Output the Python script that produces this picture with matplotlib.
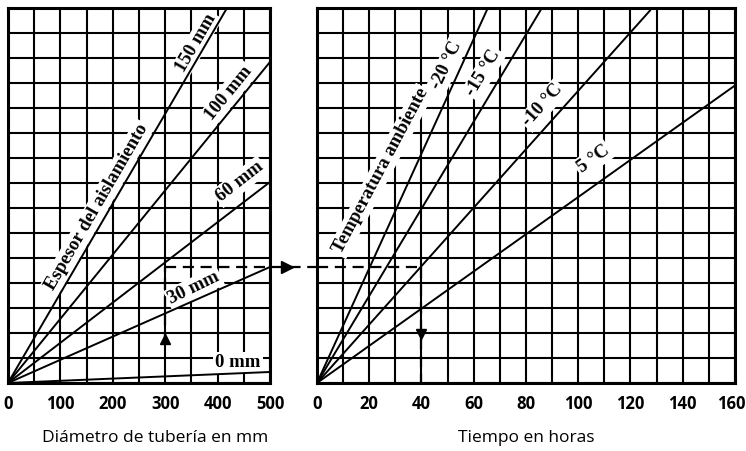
import numpy as np
import matplotlib.pyplot as plt
import matplotlib.transforms as mtransforms

# left panel: insulation thickness lines (pipe diameter in mm vs. unitless scale)
thickness_labels = ['150 mm', '100 mm', '60 mm', '30 mm', '0 mm']
thickness_end_x = [418, 500, 500, 500, 500]
thickness_end_y = [15.0, 12.84, 8.04, 4.64, 0.44]
thickness_label_x = [360, 422, 443, 355, 439]
thickness_label_y = [13.6, 11.6, 8.05, 3.8, 0.8]
thickness_label_rot = [60, 51, 38, 26, 0]

# right panel: ambient temperature lines (hours)
temp_labels = ['-20 °C', '-15 °C', '-10 °C', '5 °C']
temp_end_x = [65.4, 86.1, 127.5, 160]
temp_end_y = [15.0, 15.0, 14.9, 11.9]
temp_label_x = [49.8, 63.8, 86.5, 105.8]
temp_label_y = [12.7, 12.4, 11.1, 8.95]
temp_label_rot = [65, 59, 48, 36]

left_ticks = [0, 100, 200, 300, 400, 500]
right_ticks = [0, 20, 40, 60, 80, 100, 120, 140, 160]

# worked example: 300 mm pipe -> level 4.64 -> 40 hours
example_diam = 300
example_level = 4.64
example_hours = 40

serif = ['Liberation Serif', 'DejaVu Serif']
sans = ['Open Sans', 'DejaVu Sans']


def style_axis(ax, xmax, major, minor):
    ax.set_xlim(0, xmax)
    ax.set_ylim(0, 15)
    ax.set_xticks(major)
    ax.set_xticks(np.arange(0, xmax + 1, minor), minor=True)
    ax.set_yticks(np.arange(0, 16, 1))
    ax.set_yticklabels([])
    ax.grid(True, which='both', color='black', linewidth=1.5)
    ax.tick_params(which='both', length=0)
    ax.tick_params(axis='x', pad=9, labelsize=12)
    for lab in ax.get_xticklabels():
        lab.set_family(sans)
        lab.set_fontweight('bold')
    for sp in ax.spines.values():
        sp.set_linewidth(2.2)
    ax.set_axisbelow(True)


fig = plt.figure(figsize=(7.46, 4.51), dpi=100)
ax1 = fig.add_axes([0.0107, 0.1508, 0.3512, 0.8315])
ax2 = fig.add_axes([0.4249, 0.1508, 0.5603, 0.8315])

style_axis(ax1, 500, left_ticks, 50)
style_axis(ax2, 160, right_ticks, 10)

# nudge the last tick label so it stays inside the picture
last = ax2.get_xticklabels()[-1]
last.set_transform(last.get_transform() +
                   mtransforms.ScaledTranslation(-4 / 100, 0, fig.dpi_scale_trans))

bbox = dict(facecolor='white', edgecolor='none', pad=1.5)

for lab, ex, ey, lx, ly, rot in zip(thickness_labels, thickness_end_x, thickness_end_y,
                                    thickness_label_x, thickness_label_y, thickness_label_rot):
    ax1.plot([0, ex], [0, ey], color='black', linewidth=1.4, zorder=3)
    ax1.text(lx, ly, lab, rotation=rot, ha='center', va='center', family=serif,
             fontweight='bold', fontsize=13.5, bbox=bbox, zorder=2.5)

ax1.text(170, 7.04, 'Espesor del aislamiento', rotation=60, ha='center', va='center',
         family=serif, fontweight='bold', fontsize=13.5, bbox=bbox, zorder=2.5)

for lab, ex, ey, lx, ly, rot in zip(temp_labels, temp_end_x, temp_end_y,
                                    temp_label_x, temp_label_y, temp_label_rot):
    ax2.plot([0, ex], [0, ey], color='black', linewidth=1.4, zorder=3)
    ax2.text(lx, ly, lab, rotation=rot, ha='center', va='center', family=serif,
             fontweight='bold', fontsize=13.5, bbox=bbox, zorder=2.5)

ax2.text(24.5, 8.48, 'Temperatura ambiente', rotation=62, ha='center', va='center',
         family=serif, fontweight='bold', fontsize=13.5, bbox=bbox, zorder=2.5)

# dashed reading path
dash = dict(color='black', linewidth=1.6, linestyle=(0, (5, 3)), zorder=5)
ax1.plot([example_diam, example_diam], [1.6, example_level], **dash)
ax1.plot([example_diam, 590], [example_level, example_level], clip_on=False, **dash)
ax1.plot([example_diam], [1.75], marker='^', color='black', markersize=7, zorder=6)
ax1.plot([532], [example_level], marker='>', color='black', markersize=8,
         clip_on=False, zorder=6)
ax2.plot([0, example_hours], [example_level, example_level], **dash)
ax2.plot([example_hours, example_hours], [example_level, 0], **dash)
ax2.plot([example_hours], [1.95], marker='v', color='black', markersize=7, zorder=6)

ax1.set_xlabel('Diámetro de tubería en mm', family=sans, fontsize=12.5)
ax1.xaxis.set_label_coords(0.56, -0.125)
ax2.set_xlabel('Tiempo en horas', family=sans, fontsize=12.5)
ax2.xaxis.set_label_coords(0.5, -0.125)

fig.savefig('out.png', dpi=100)
